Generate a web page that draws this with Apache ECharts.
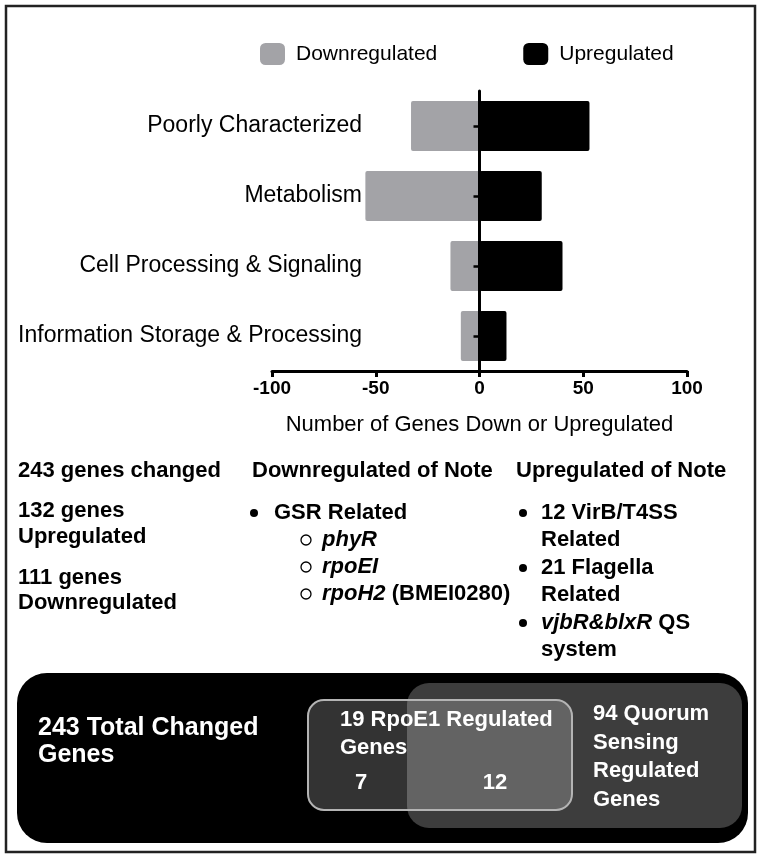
<!DOCTYPE html>
<html>
<head>
<meta charset="utf-8">
<script src="https://cdn.jsdelivr.net/npm/echarts@6/dist/echarts.min.js"></script>
<style>
  html, body { margin: 0; padding: 0; background: #fff; }
  #chart { width: 762px; height: 859px; }
</style>
</head>
<body>
<div id="chart"></div>
<script>
// data
const categories = ['Poorly Characterized', 'Metabolism', 'Cell Processing & Signaling', 'Information Storage & Processing'];
const downregulated = [-33, -55, -14, -9];
const upregulated = [53, 30, 40, 13];
const xTicks = { min: -100, max: 100, step: 50 };

// notes under the chart
const summaryLines = [['243 genes changed'], ['132 genes', 'Upregulated'], ['111 genes', 'Downregulated']];
const downNoteTitle = 'Downregulated of Note';
const downNotes = ['GSR Related'];
const downSubNotes = ['{i|phyR}', '{i|rpoEI}', '{i|rpoH2}{b| (BMEI0280)}'];
const upNoteTitle = 'Upregulated of Note';
const upNotes = [['12 VirB/T4SS', 'Related'], ['21 Flagella', 'Related'], ['{i|vjbR&blxR}{b| QS}', '{b|system}']];

// venn box
const totalLabel = ['243 Total Changed', 'Genes'];
const rpoLabel = ['19 RpoE1 Regulated', 'Genes'];
const rpoSplit = ['7', '12'];
const qsLabel = ['94 Quorum', 'Sensing', 'Regulated', 'Genes'];

const FONT = '"Liberation Sans", Arial, Helvetica, sans-serif';

function txt(x, y, text, size, color, align) {
  return {
    type: 'text', x: x, y: y, silent: true,
    style: {
      text: text,
      fill: color || '#000',
      font: 'bold ' + size + 'px ' + FONT,
      verticalAlign: 'middle',
      align: align || 'left'
    }
  };
}

function richTxt(x, y, text, size) {
  return {
    type: 'text', x: x, y: y, silent: true,
    style: {
      text: text,
      fill: '#000',
      font: 'bold ' + size + 'px ' + FONT,
      verticalAlign: 'middle',
      align: 'left',
      rich: {
        i: { fontStyle: 'italic', fontWeight: 'bold', fontSize: size, fontFamily: FONT, fill: '#000' },
        b: { fontWeight: 'bold', fontSize: size, fontFamily: FONT, fill: '#000' }
      }
    }
  };
}

const graphics = [];

// outer frame
graphics.push({
  type: 'rect', silent: true, z: -10,
  shape: { x: 6, y: 6, width: 749, height: 846 },
  style: { fill: 'none', stroke: '#222', lineWidth: 2.5 }
});

// column 1
let ys = [[471], [511, 537], [578, 603]];
summaryLines.forEach((lines, i) => {
  lines.forEach((l, j) => graphics.push(txt(18, ys[i][j], l, 22)));
});

// column 2
graphics.push(txt(252, 471, downNoteTitle, 22));
graphics.push({ type: 'circle', silent: true, shape: { cx: 254, cy: 513, r: 4 }, style: { fill: '#000' } });
graphics.push(txt(274, 513, downNotes[0], 22));
downSubNotes.forEach((s, i) => {
  const y = 540 + i * 27;
  graphics.push({ type: 'circle', silent: true, shape: { cx: 306, cy: y, r: 5 }, style: { fill: 'none', stroke: '#000', lineWidth: 1.3 } });
  graphics.push(richTxt(322, y, s, 22));
});

// column 3
graphics.push(txt(516, 471, upNoteTitle, 22));
upNotes.forEach((lines, i) => {
  const y = 513 + i * 55;
  graphics.push({ type: 'circle', silent: true, shape: { cx: 523, cy: y, r: 4 }, style: { fill: '#000' } });
  lines.forEach((l, j) => graphics.push(richTxt(541, y + j * 27, l, 22)));
});

// black box with overlapping groups
graphics.push({
  type: 'rect', silent: true,
  shape: { x: 17, y: 673, width: 731, height: 170, r: 30 },
  style: { fill: '#000' }
});
graphics.push({
  type: 'rect', silent: true,
  shape: { x: 407, y: 683, width: 335, height: 145, r: 22 },
  style: { fill: '#3d3d3d' }
});
graphics.push({
  type: 'rect', silent: true,
  shape: { x: 308, y: 700, width: 264, height: 110, r: 16 },
  style: { fill: 'rgba(255,255,255,0.2)', stroke: '#b4b4b4', lineWidth: 2 }
});
totalLabel.forEach((l, j) => graphics.push(txt(38, 728 + j * 27, l, 25, '#fff')));
rpoLabel.forEach((l, j) => graphics.push(txt(340, 720 + j * 28, l, 22, '#fff')));
graphics.push(txt(361, 783, rpoSplit[0], 22, '#fff', 'center'));
graphics.push(txt(495, 783, rpoSplit[1], 22, '#fff', 'center'));
qsLabel.forEach((l, j) => graphics.push(txt(593, 714 + j * 28.5, l, 22, '#fff')));

const chart = echarts.init(document.getElementById('chart'));

const option = {
  backgroundColor: '#fff',
  animation: false,
  textStyle: { fontFamily: FONT },
  legend: {
    left: 255,
    top: 38,
    itemWidth: 25,
    itemHeight: 22,
    itemGap: 86,
    icon: 'roundRect',
    textStyle: { fontSize: 21, color: '#000', padding: [0, 0, 0, 6] },
    data: ['Downregulated', 'Upregulated']
  },
  grid: {
    left: 272,
    right: 75,
    top: 91,
    bottom: 488,
    outerBoundsMode: 'none',
    containLabel: false
  },
  xAxis: {
    type: 'value',
    min: xTicks.min,
    max: xTicks.max,
    interval: xTicks.step,
    name: 'Number of Genes Down or Upregulated',
    nameLocation: 'middle',
    nameGap: 43,
    nameTextStyle: { fontSize: 22, color: '#000' },
    axisLine: { show: true, lineStyle: { color: '#000', width: 3 } },
    axisTick: { show: true, length: 6, lineStyle: { color: '#000', width: 3 } },
    axisLabel: { fontSize: 19, fontWeight: 'bold', color: '#000', margin: 8 },
    splitLine: { show: false }
  },
  yAxis: {
    type: 'category',
    inverse: true,
    data: categories,
    z: 5,
    axisLine: { show: true, onZero: true, lineStyle: { color: '#000', width: 3 } },
    axisTick: { show: true, alignWithLabel: true, length: 6, lineStyle: { color: '#000', width: 2.5 } },
    axisLabel: { fontSize: 23, color: '#000', margin: -90 },
    splitLine: { show: false }
  },
  series: [
    {
      name: 'Downregulated',
      type: 'bar',
      data: downregulated,
      barWidth: 50,
      barGap: '-100%',
      itemStyle: { color: '#a3a3a7', borderRadius: 2 }
    },
    {
      name: 'Upregulated',
      type: 'bar',
      data: upregulated,
      barWidth: 50,
      barGap: '-100%',
      itemStyle: { color: '#000', borderRadius: 2 }
    }
  ],
  graphic: graphics
};

chart.setOption(option);
window.addEventListener('resize', () => chart.resize());
</script>
</body>
</html>
